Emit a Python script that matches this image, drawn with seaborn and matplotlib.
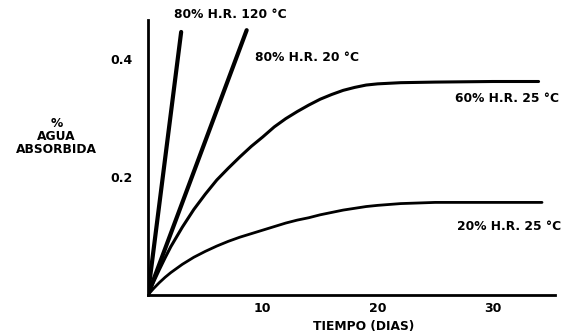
import numpy as np
import pandas as pd
import seaborn as sns
import matplotlib.pyplot as plt

# Water absorption (% agua absorbida) vs time (days)
dias_80_120 = [0, 2.9]
agua_80_120 = [0, 0.446]

dias_80_20 = [0, 8.6]
agua_80_20 = [0, 0.449]

dias_60_25 = [0, 0.5, 1, 1.5, 2, 3, 4, 5, 6, 7, 8, 9, 10, 11, 12, 13, 14, 15,
              16, 17, 18, 19, 20, 22, 25, 30, 34]
agua_60_25 = [0, 0.022, 0.043, 0.063, 0.082, 0.115, 0.145, 0.171, 0.195, 0.215,
              0.234, 0.252, 0.268, 0.285, 0.299, 0.311, 0.322, 0.332, 0.340,
              0.347, 0.352, 0.356, 0.358, 0.360, 0.361, 0.362, 0.362]

dias_20_25 = [0, 0.5, 1, 1.5, 2, 3, 4, 5, 6, 7, 8, 9, 10, 11, 12, 13, 14, 15,
              16, 17, 18, 19, 20, 22, 25, 30, 34.3]
agua_20_25 = [0, 0.011, 0.021, 0.030, 0.038, 0.052, 0.064, 0.074, 0.083, 0.091,
              0.098, 0.104, 0.110, 0.116, 0.122, 0.127, 0.131, 0.136, 0.140,
              0.144, 0.147, 0.150, 0.152, 0.155, 0.157, 0.157, 0.157]

etiquetas = ['80% H.R. 120 °C', '80% H.R. 20 °C', '60% H.R. 25 °C', '20% H.R. 25 °C']

sns.set_style('white')
plt.rcParams['font.family'] = ['DejaVu Sans']
plt.rcParams['text.color'] = 'black'
plt.rcParams['axes.labelcolor'] = 'black'
plt.rcParams['xtick.color'] = 'black'
plt.rcParams['ytick.color'] = 'black'

fig = plt.figure(figsize=(5.73, 3.36), dpi=100)
ax = fig.add_axes([0.258, 0.122, 0.71, 0.818])

series = [
    (dias_80_120, agua_80_120, 3.0),
    (dias_80_20, agua_80_20, 3.0),
    (dias_60_25, agua_60_25, 2.2),
    (dias_20_25, agua_20_25, 2.0),
]
for x, y, lw in series:
    sns.lineplot(x=x, y=y, ax=ax, color='black', linewidth=lw, sort=False,
                 estimator=None, solid_joinstyle='round')

ax.set_xlim(0, 35.4)
ax.set_ylim(0, 0.466)
ax.set_xticks([10, 20, 30])
ax.set_yticks([0.2, 0.4])
ax.set_yticklabels(['0.2', '0.4'])
ax.tick_params(axis='x', length=0, pad=5, labelsize=9)
ax.tick_params(axis='y', length=5, width=1.5, direction='out', labelsize=9, pad=6)
for lab in ax.get_xticklabels() + ax.get_yticklabels():
    lab.set_fontweight('heavy')

sns.despine(ax=ax)
for s in ['left', 'bottom']:
    ax.spines[s].set_linewidth(2)
    ax.spines[s].set_color('black')

fs = 8.8
txt = dict(fontsize=fs, fontweight='heavy', color='black', clip_on=False)
ax.text(2.3, 0.476, etiquetas[0], ha='left', va='center', **txt)
ax.text(9.3, 0.403, etiquetas[1], ha='left', va='center', **txt)
ax.text(26.7, 0.334, etiquetas[2], ha='left', va='center', **txt)
ax.text(26.9, 0.117, etiquetas[3], ha='left', va='center', **txt)

ax.set_xlabel('TIEMPO (DIAS)', fontsize=fs, fontweight='heavy')
ax.xaxis.set_label_coords(0.53, -0.092)
ax.set_ylabel('%\nAGUA\nABSORBIDA', fontsize=fs, fontweight='heavy', rotation=0,
              ha='center', va='center', linespacing=1.0)
ax.yaxis.set_label_coords(-0.225, 0.575)

fig.savefig('out.png', dpi=100)
